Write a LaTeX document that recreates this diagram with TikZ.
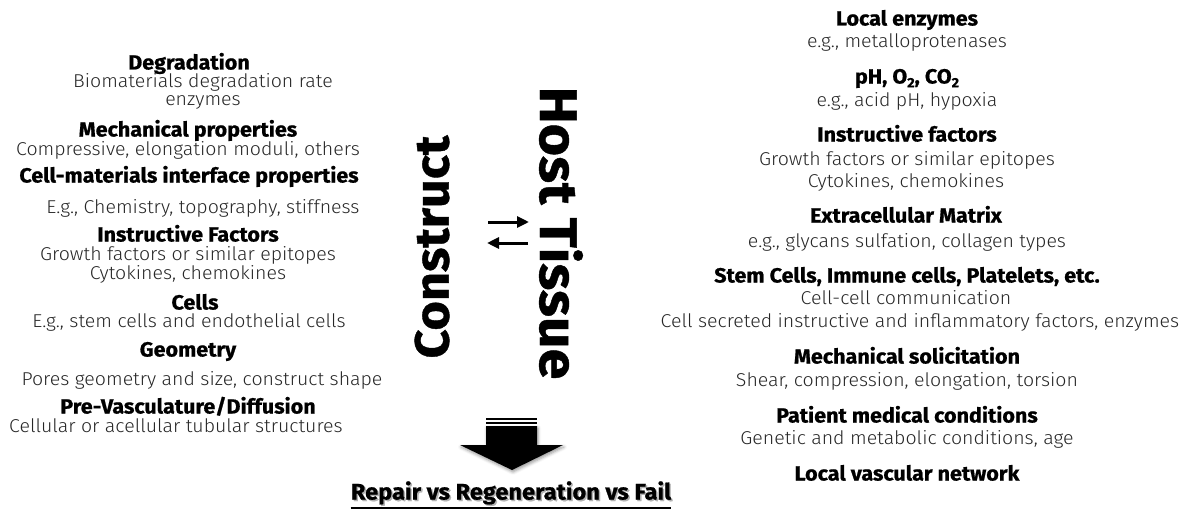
\documentclass[tikz,border=0pt]{standalone}
\usepackage{fontspec}
\setmainfont{Fira Sans Light}
\newfontfamily\hdfam{Fira Sans}[BoldFeatures={FakeBold=0.8, FakeStretch=1.05}]
\newcommand{\hdfont}{\hdfam\bfseries}
\newfontfamily\bdfont{Fira Sans Light}[FakeStretch=1.05]
\usetikzlibrary{arrows.meta,shadows.blur}
\tikzset{
  hd/.style={font=\hdfont\fontsize{20.5}{23}\selectfont, inner sep=0pt, text height=12pt, text depth=3pt, anchor=center},
  bd/.style={font=\bdfont\fontsize{18.6}{21}\selectfont, inner sep=0pt, text height=11.5pt, text depth=3pt, anchor=center, text=black!85},
  big/.style={font=\hdfont\fontsize{48}{52}\selectfont, inner sep=0pt, anchor=center},
  smallarrow/.style={line width=3pt, -{Triangle[length=12pt,width=11pt]}},
}
\newcommand{\subtwo}{\raisebox{-0.35ex}{\fontsize{13.5}{15}\selectfont 2}}
\begin{document}
\begin{tikzpicture}[x=1pt,y=-1pt]
\useasboundingbox (0,0) rectangle (1182,511);
% left column
\node[hd] (l1) at (189,65) {Degradation};
\node[bd] (l1a) at (203,83) {Biomaterials degradation rate};
\node[bd] (l1b) at (203,101.5) {enzymes};
\node[hd] (l2) at (188,132) {Mechanical properties};
\node[bd] (l2a) at (188,151) {Compressive, elongation moduli, others};
\node[hd] (l3) at (189,178) {Cell-materials interface properties};
\node[bd] (l3a) at (203,209) {E.g., Chemistry, topography, stiffness};
\node[hd] (l4) at (188,237) {Instructive Factors};
\node[bd] (l4a) at (188,256) {Growth factors or similar epitopes};
\node[bd] (l4b) at (188,275) {Cytokines, chemokines};
\node[hd] (l5) at (195,305) {Cells};
\node[bd] (l5a) at (189,323) {E.g., stem cells and endothelial cells};
\node[hd] (l6) at (188,352) {Geometry};
\node[bd] (l6a) at (202,381) {Pores geometry and size, construct shape};
\node[hd] (l7) at (188,409) {Pre-Vasculature/Diffusion};
\node[bd] (l7a) at (176,428) {Cellular or acellular tubular structures};
% right column
\node[hd] (r1) at (907,21) {Local enzymes};
\node[bd] (r1a) at (907,43) {e.g., metalloprotenases};
\node[hd] (r2) at (907,79) {pH, O\subtwo, CO\subtwo};
\node[bd] (r2a) at (907,102) {e.g., acid pH, hypoxia};
\node[hd] (r3) at (907,137) {Instructive factors};
\node[bd] (r3a) at (907,161) {Growth factors or similar epitopes};
\node[bd] (r3b) at (906,183) {Cytokines, chemokines};
\node[hd] (r4) at (906,218) {Extracellular Matrix};
\node[bd] (r4a) at (907,243) {e.g., glycans sulfation, collagen types};
\node[hd] (r5) at (907,278) {Stem Cells, Immune cells, Platelets, etc.};
\node[bd] (r5a) at (906,300) {Cell-cell communication};
\node[bd] (r5b) at (920,323) {Cell secreted instructive and inflammatory factors, enzymes};
\node[hd] (r6) at (907,359) {Mechanical solicitation};
\node[bd] (r6a) at (907,382) {Shear, compression, elongation, torsion};
\node[hd] (r7) at (907,418) {Patient medical conditions};
\node[bd] (r7a) at (907,440) {Genetic and metabolic conditions, age};
\node[hd] (r8) at (907,476) {Local vascular network};
% central titles
\node[big, rotate=90] (construct) at (432,247) {Construct};
\node[big, rotate=-90, font=\hdfont\fontsize{53}{56}\selectfont] (host) at (561,233) {Host Tissue};
% exchange arrows
\coordinate (a1s) at (488,222); \coordinate (a1e) at (529,222);
\coordinate (a2s) at (528,243); \coordinate (a2e) at (487,243);
\draw[smallarrow] (a1s) -- (a1e);
\draw[smallarrow] (a2s) -- (a2e);
% big down arrow
\fill[black, blur shadow={shadow xshift=1pt, shadow yshift=-2pt, shadow blur radius=3pt, shadow opacity=40}]
  (486,426) -- (537,426) -- (537,445) -- (563,445) -- (512,470) -- (460,445) -- (486,445) -- cycle;
\fill[black] (486,418) rectangle (537,420.3);
\fill[black] (486,422.3) rectangle (537,424.3);
% outcome
\node[font=\hdfont\fontsize{22.5}{25}\selectfont, inner sep=0pt, text height=15pt, text depth=4pt, text=black!30] (outsh) at (512.5,495.5) {Repair vs Regeneration vs Fail};
\node[font=\hdfont\fontsize{22.5}{25}\selectfont, inner sep=0pt, text height=15pt, text depth=4pt] (out) at (511,494) {Repair vs Regeneration vs Fail};
\draw[line width=1.8pt] (out.south west |- 0,508) -- (out.south east |- 0,508);
\end{tikzpicture}
\end{document}
